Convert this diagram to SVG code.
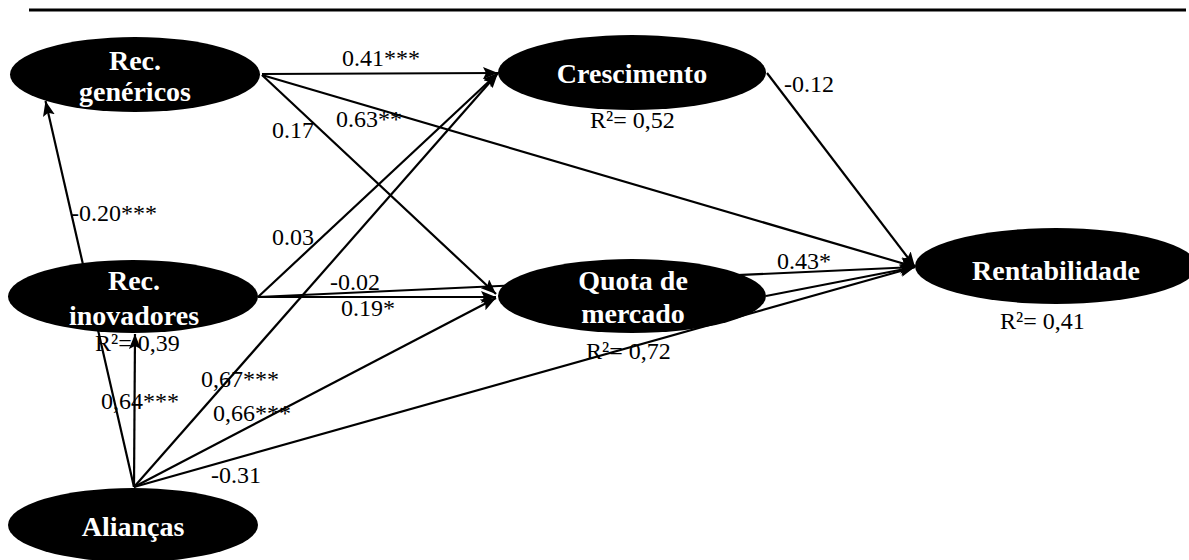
<svg xmlns="http://www.w3.org/2000/svg" width="1189" height="560" viewBox="0 0 1189 560">
  <defs>
    <marker id="arrow" markerUnits="userSpaceOnUse" markerWidth="16" markerHeight="12" viewBox="0 0 16 12" refX="15" refY="6" orient="auto">
      <path d="M0,0 L15,6 L0,12 L3,6 z" fill="#000"/>
    </marker>
    <style>
      .edge { stroke: #000; stroke-width: 2.2; fill: none; marker-end: url(#arrow); }
      .node ellipse { fill: #000; }
      .node text { fill: #fff; font-weight: bold; font-size: 28px; text-anchor: middle; }
      .lbl { fill: #000; font-size: 24px; }
    </style>
  </defs>

  <rect width="1189" height="560" fill="#fff"/>

  <!-- top rule -->
  <line x1="29" y1="10" x2="1186" y2="10" stroke="#000" stroke-width="3"/>

  <!-- paths between constructs -->
  <g id="connectors">
    <line class="edge" x1="262" y1="74" x2="498" y2="73"/>
    <line class="edge" x1="262" y1="75" x2="496" y2="294"/>
    <line class="edge" x1="262" y1="75" x2="915" y2="267"/>
    <line class="edge" x1="767" y1="73" x2="915" y2="267"/>
    <line class="edge" x1="134" y1="487" x2="45.5" y2="101"/>
    <line class="edge" x1="258" y1="297" x2="498" y2="73"/>
    <line class="edge" x1="258" y1="297" x2="496" y2="297"/>
    <line class="edge" x1="258" y1="297" x2="915" y2="267"/>
    <line class="edge" x1="766" y1="296" x2="915" y2="267"/>
    <line class="edge" x1="134" y1="487" x2="135" y2="334"/>
    <line class="edge" x1="134" y1="487" x2="498" y2="73"/>
    <line class="edge" x1="134" y1="487" x2="496" y2="298"/>
    <line class="edge" x1="134" y1="487" x2="915" y2="267"/>
  </g>

  <!-- constructs -->
  <g font-family="'Liberation Serif', 'Times New Roman', serif">
    <g id="rec-genericos" class="node">
      <ellipse cx="135" cy="74.5" rx="125" ry="37.5"/>
      <text x="135" y="70">Rec.</text>
      <text x="135" y="101">genéricos</text>
    </g>
    <g id="crescimento" class="node">
      <ellipse cx="632" cy="72.5" rx="134" ry="37.5"/>
      <text x="632" y="83">Crescimento</text>
    </g>
    <g id="rec-inovadores" class="node">
      <ellipse cx="133" cy="296.5" rx="125" ry="36.5"/>
      <text x="134" y="290">Rec.</text>
      <text x="134" y="325">inovadores</text>
    </g>
    <g id="quota-mercado" class="node">
      <ellipse cx="632" cy="296" rx="134" ry="37"/>
      <text x="633" y="290">Quota de</text>
      <text x="633" y="323">mercado</text>
    </g>
    <g id="rentabilidade" class="node">
      <ellipse cx="1056" cy="266" rx="141" ry="38"/>
      <text x="1056" y="280">Rentabilidade</text>
    </g>
    <g id="aliancas" class="node">
      <ellipse cx="133" cy="525" rx="125" ry="37"/>
      <text x="133" y="536">Alianças</text>
    </g>
  </g>

  <!-- path coefficients -->
  <g id="coefficients" font-family="'Liberation Serif', 'Times New Roman', serif">
    <text class="lbl" x="342" y="66">0.41***</text>
    <text class="lbl" x="272" y="138">0.17</text>
    <text class="lbl" x="336" y="127">0.63**</text>
    <text class="lbl" x="784" y="92">-0.12</text>
    <text class="lbl" x="71" y="221">-0.20***</text>
    <text class="lbl" x="272" y="245">0.03</text>
    <text class="lbl" x="330" y="290">-0.02</text>
    <text class="lbl" x="341" y="316">0.19*</text>
    <text class="lbl" x="777" y="269">0.43*</text>
    <text class="lbl" x="201" y="387">0,67***</text>
    <text class="lbl" x="213" y="421">0,66***</text>
    <text class="lbl" x="101" y="409">0,64***</text>
    <text class="lbl" x="211" y="483">-0.31</text>
  </g>

  <!-- explained variance -->
  <g id="r-squared" font-family="'Liberation Serif', 'Times New Roman', serif">
    <text class="lbl" x="590" y="128">R²= 0,52</text>
    <text class="lbl" x="95" y="351">R²= 0,39</text>
    <text class="lbl" x="586" y="359">R²= 0,72</text>
    <text class="lbl" x="1000" y="329">R²= 0,41</text>
  </g>
</svg>
